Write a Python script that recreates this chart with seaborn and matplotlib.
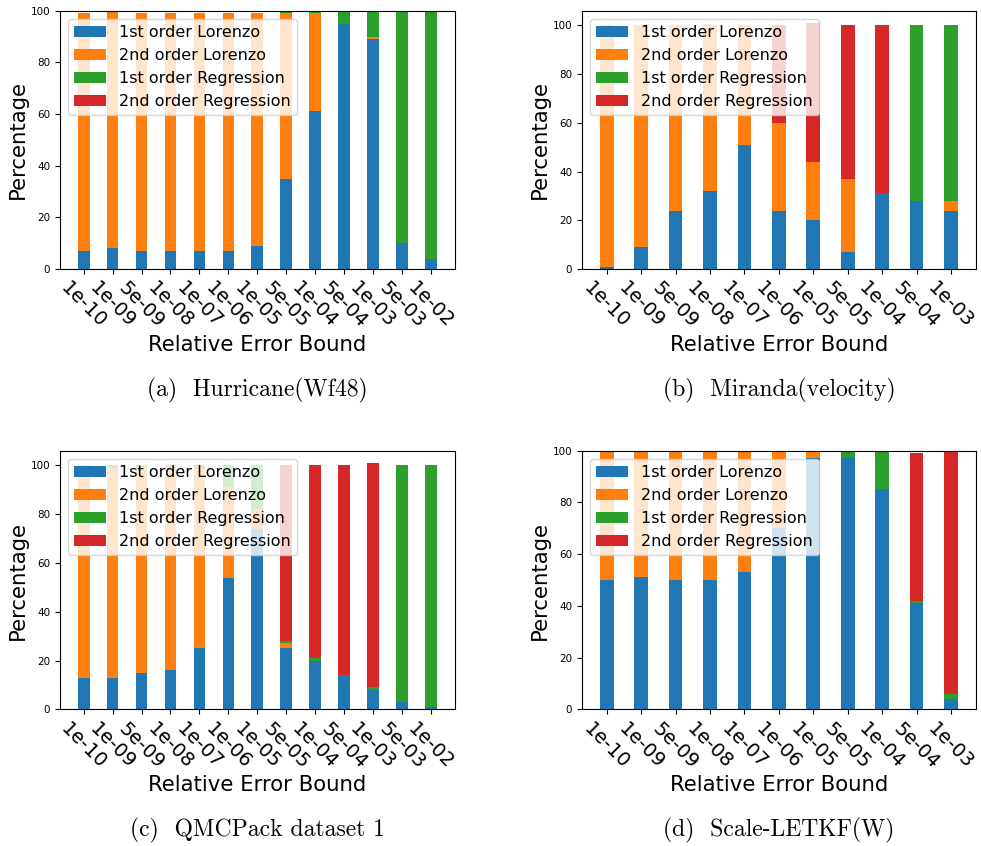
import matplotlib
matplotlib.use("Agg")
import matplotlib.pyplot as plt
import seaborn as sns
import numpy as np

# ---------------- data ----------------
cats13 = ['1e-10', '1e-09', '5e-09', '1e-08', '1e-07', '1e-06', '1e-05',
          '5e-05', '1e-04', '5e-04', '1e-03', '5e-03', '1e-02']
cats11 = cats13[:11]

series_names = ['1st order Lorenzo', '2nd order Lorenzo',
                '1st order Regression', '2nd order Regression']

# (a) Hurricane(Wf48)
a_l1 = [7, 8, 7, 7, 7, 7, 9, 35, 61, 95, 89, 10, 4]
a_l2 = [92, 92, 92, 92, 92, 92, 90, 64, 38, 0, 1, 0, 0]
a_r1 = [0, 0, 0, 0, 0, 0, 0, 1, 1, 5, 10, 90, 96]
a_r2 = [0, 0, 0, 0, 0, 0, 0, 0, 0, 0, 0, 0, 0]

# (b) Miranda(velocity)
b_l1 = [1, 9, 24, 32, 51, 24, 20, 7, 31, 28, 24]
b_l2 = [99, 91, 76, 68, 49, 36, 24, 30, 0, 0, 4]
b_r1 = [0, 0, 0, 0, 0, 0, 0, 0, 0, 72, 72]
b_r2 = [0, 0, 0, 0, 0, 40, 57, 63, 69, 0, 0]

# (c) QMCPack dataset 1
c_l1 = [13, 13, 15, 16, 25, 54, 74, 25, 20, 14, 8, 3, 1]
c_l2 = [87, 86, 84, 83, 74, 37, 8, 2, 0, 0, 0, 0, 0]
c_r1 = [0, 1, 1, 1, 1, 9, 18, 1, 1, 0, 1, 97, 99]
c_r2 = [0, 0, 0, 0, 0, 0, 0, 72, 79, 86, 92, 0, 0]

# (d) Scale-LETKF(W)
d_l1 = [50, 51, 50, 50, 53, 70, 97, 97, 85, 41, 4]
d_l2 = [50, 49, 50, 50, 47, 30, 3, 0, 0, 0, 0]
d_r1 = [0, 0, 0, 0, 0, 0, 0, 3, 15, 1, 2]
d_r2 = [0, 0, 0, 0, 0, 0, 0, 0, 0, 57, 94]

captions = ['(a)  Hurricane(Wf48)', '(b)  Miranda(velocity)',
            '(c)  QMCPack dataset 1', '(d)  Scale-LETKF(W)']

colors = ['#1f77b4', '#ff7f0e', '#2ca02c', '#d62728']

panels = [
    (cats13, [a_l1, a_l2, a_r1, a_r2], (0, 100)),
    (cats11, [b_l1, b_l2, b_r1, b_r2], None),
    (cats13, [c_l1, c_l2, c_r1, c_r2], None),
    (cats11, [d_l1, d_l2, d_r1, d_r2], (0, 100)),
]

# ---------------- figure ----------------
W, H = 981, 846
fig = plt.figure(figsize=(W / 100, H / 100), dpi=100)

axes_px = [  # left, top, right, bottom in pixels
    (60, 10.7, 454.5, 269),
    (582, 10.7, 975.7, 269),
    (60, 450.7, 454.5, 709.3),
    (582, 450.7, 975.7, 709.3),
]
bar_w = 0.4

for i, ((cats, vals, ylim), (l, t, r, b)) in enumerate(zip(panels, axes_px)):
    ax = fig.add_axes([l / W, 1 - b / H, (r - l) / W, (b - t) / H])
    arr = np.array(vals, dtype=float)
    cum = np.cumsum(arr, axis=0)
    # draw cumulative heights from the top layer down so segments stack
    for k in range(3, -1, -1):
        sns.barplot(x=cats, y=cum[k], order=cats, color=colors[k],
                    width=bar_w, saturation=1, errorbar=None,
                    label=series_names[k], ax=ax)
    n = len(cats)
    span = (n - 1) + bar_w
    ax.set_xlim(-bar_w / 2 - 0.05 * span, n - 1 + bar_w / 2 + 0.05 * span)
    if ylim is not None:
        ax.set_ylim(*ylim)
    else:
        top = cum[-1].max()
        ax.set_ylim(0, top * 1.05)
    ax.set_yticks([0, 20, 40, 60, 80, 100])
    ax.tick_params(axis='y', labelsize=7.5)
    ax.tick_params(axis='x', labelsize=14)
    plt.setp(ax.get_xticklabels(), rotation=-45, ha='center')
    ax.set_xlabel('Relative Error Bound', fontsize=15.3, labelpad=2)
    ax.set_ylabel('Percentage', fontsize=15.3, labelpad=2)
    for sp in ax.spines.values():
        sp.set_visible(True)
        sp.set_color('black')
    handles, labels = ax.get_legend_handles_labels()
    hmap = dict(zip(labels, handles))
    ax.legend([hmap[s] for s in series_names], series_names,
              loc='upper left', fontsize=11.5)
    cx = (l + r) / 2 / W
    cy = 1 - (b + 121) / H
    fig.text(cx, cy, captions[i], ha='center', va='center',
             fontsize=17, family='cmr10')

fig.savefig('out.png', dpi=100)
